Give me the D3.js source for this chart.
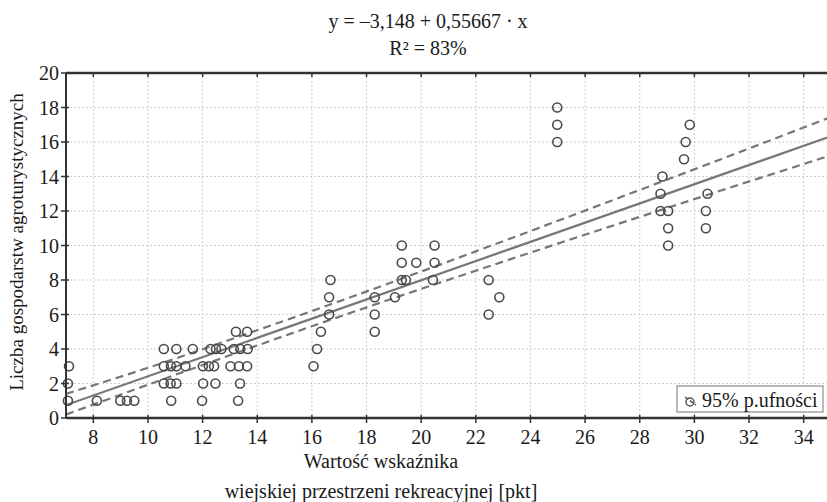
<!DOCTYPE html>
<html><head><meta charset="utf-8">
<script src="https://cdn.jsdelivr.net/npm/d3@7/dist/d3.min.js"></script>
<style>body{margin:0;background:#fff}svg{display:block}text{font-family:"Liberation Serif","Times New Roman",serif;fill:#1a1a1a}</style>
</head><body><svg id="c" width="827" height="502"></svg>
<script>
// ---- data ----
const pointX = [7.07,7.07,7.11, 8.13,8.99,9.23,9.5, 10.85,11.98,13.3,
  10.58,10.83,11.04,12.02,12.47,13.37,
  10.58,10.84,11.04,11.37,12.01,12.23,12.42,13.02,13.33,13.63,
  10.58,11.04,11.64,12.29,12.49,12.69,13.14,13.38,13.65,
  13.22,13.63,
  16.06,16.19,16.33,16.63,16.63,16.68,
  18.3,18.3,18.3,
  19.04,19.29,19.44,19.29,19.29,19.82,20.43,20.49,20.49,
  22.47,22.47,22.86,
  24.98,24.98,24.98,
  28.83,28.76,28.76,29.04,29.04,29.04,
  29.62,29.68,29.83,
  30.48,30.42,30.42];
const pointY = [1,2,3, 1,1,1,1, 1,1,1,
  2,2,2,2,2,2,
  3,3,3,3,3,3,3,3,3,3,
  4,4,4,4,4,4,4,4,4,
  5,5,
  3,4,5,6,7,8,
  5,6,7,
  7,8,8,9,10,9,8,9,10,
  6,8,7,
  16,17,18,
  14,13,12,12,11,10,
  15,16,17,
  13,12,11];
const intercept = -3.148, slope = 0.55667;
const bandX     = [7, 10, 13, 16, 19, 22, 25, 28, 31, 35];
const bandUpper = [1.40, 2.91, 4.54, 6.20, 7.91, 9.66, 11.43, 13.22, 15.02, 17.45];
const bandLower = [0.20, 1.93, 3.64, 5.32, 6.95, 8.54, 10.11, 11.66, 13.20, 15.23];
const xTicks = [8,10,12,14,16,18,20,22,24,26,28,30,32,34];
const yTicks = [0,2,4,6,8,10,12,14,16,18,20];
const titleLines = ["y = \u20133,148 + 0,55667 \u00b7 x", "R\u00b2 = 83%"];
const xLabelLines = ["Warto\u015b\u0107 wska\u017anika", "wiejskiej przestrzeni rekreacyjnej [pkt]"];
const yLabel = "Liczba gospodarstw agroturystycznych";
const legendLabel = "95% p.ufno\u015bci";

// ---- layout ----
const svg = d3.select("#c");
const L = 66, T = 73, R = 831, B = 418;
const x = d3.scaleLinear().domain([7, 35]).range([L, R]);
const y = d3.scaleLinear().domain([0, 20]).range([B, T]);

// grid
const g = svg.append("g");
g.selectAll(".gx").data(xTicks).join("line")
  .attr("x1", d => x(d)).attr("x2", d => x(d)).attr("y1", T).attr("y2", B)
  .attr("stroke", "#cfcfcf").attr("stroke-width", 1).attr("stroke-dasharray", "2,2");
g.selectAll(".gy").data(yTicks.filter(d => d > 0 && d < 20)).join("line")
  .attr("x1", L).attr("x2", R).attr("y1", d => y(d)).attr("y2", d => y(d))
  .attr("stroke", "#cfcfcf").attr("stroke-width", 1).attr("stroke-dasharray", "2,2");

// regression line and bands
svg.append("clipPath").attr("id", "pc").append("rect")
  .attr("x", L).attr("y", T).attr("width", R - L).attr("height", B - T);
const lineG = svg.append("g").attr("clip-path", "url(#pc)");
const regX = [7, 35];
lineG.append("line")
  .attr("x1", x(regX[0])).attr("y1", y(intercept + slope * regX[0]))
  .attr("x2", x(regX[1])).attr("y2", y(intercept + slope * regX[1]))
  .attr("stroke", "#777").attr("stroke-width", 2.2);
const bandLine = d3.line().x(d => x(d[0])).y(d => y(d[1])).curve(d3.curveMonotoneX);
[bandUpper, bandLower].forEach(arr => {
  lineG.append("path").datum(bandX.map((bx, i) => [bx, arr[i]]))
    .attr("d", bandLine).attr("fill", "none")
    .attr("stroke", "#777").attr("stroke-width", 2.2).attr("stroke-dasharray", "8,5");
});

// points
svg.append("g").selectAll("circle").data(pointX.map((px, i) => [px, pointY[i]])).join("circle")
  .attr("cx", d => x(d[0])).attr("cy", d => y(d[1])).attr("r", 4.5)
  .attr("fill", "none").attr("stroke", "#4a4a4a").attr("stroke-width", 1.6);

// axes / frame
const ax = svg.append("g");
ax.append("line").attr("x1", L).attr("x2", R).attr("y1", B).attr("y2", B).attr("stroke", "#333").attr("stroke-width", 2.5);
ax.append("line").attr("x1", L).attr("x2", R).attr("y1", T).attr("y2", T).attr("stroke", "#333").attr("stroke-width", 2.5);
ax.append("line").attr("x1", L).attr("x2", L).attr("y1", T).attr("y2", B).attr("stroke", "#333").attr("stroke-width", 2);
ax.append("line").attr("x1", R).attr("x2", R).attr("y1", T).attr("y2", B).attr("stroke", "#333").attr("stroke-width", 2);
// ticks
ax.selectAll(".tb").data(xTicks).join("line")
  .attr("x1", d => x(d)).attr("x2", d => x(d)).attr("y1", B - 3).attr("y2", B + 5)
  .attr("stroke", "#333").attr("stroke-width", 1.5);
ax.selectAll(".tt").data(xTicks).join("line")
  .attr("x1", d => x(d)).attr("x2", d => x(d)).attr("y1", T).attr("y2", T + 4)
  .attr("stroke", "#333").attr("stroke-width", 1.5);
ax.selectAll(".tl").data(yTicks).join("line")
  .attr("x1", L - 5).attr("x2", L + 3).attr("y1", d => y(d)).attr("y2", d => y(d))
  .attr("stroke", "#333").attr("stroke-width", 1.5);
ax.selectAll(".tr").data(yTicks).join("line")
  .attr("x1", R - 4).attr("x2", R).attr("y1", d => y(d)).attr("y2", d => y(d))
  .attr("stroke", "#333").attr("stroke-width", 1.5);
// tick labels
ax.selectAll(".lx").data(xTicks).join("text")
  .attr("x", d => x(d)).attr("y", B + 26).attr("text-anchor", "middle")
  .attr("font-size", 20).text(d => d);
ax.selectAll(".ly").data(yTicks).join("text")
  .attr("x", L - 7).attr("y", d => y(d) + 7).attr("text-anchor", "end")
  .attr("font-size", 20).text(d => d);

// titles
svg.selectAll(".title").data(titleLines).join("text")
  .attr("x", 428).attr("y", (d, i) => 28 + i * 27).attr("text-anchor", "middle")
  .attr("font-size", 20).text(d => d);
svg.selectAll(".xl").data(xLabelLines).join("text")
  .attr("x", 381).attr("y", (d, i) => 468 + i * 30).attr("text-anchor", "middle")
  .attr("font-size", 20).text(d => d);
svg.append("text").attr("transform", "translate(23,242) rotate(-90)")
  .attr("text-anchor", "middle").attr("font-size", 19).text(yLabel);

// legend
const lg = svg.append("g");
lg.append("rect").attr("x", 677).attr("y", 386).attr("width", 146).attr("height", 26)
  .attr("fill", "#fff").attr("stroke", "#777").attr("stroke-width", 1);
lg.append("circle").attr("cx", 690).attr("cy", 402).attr("r", 4).attr("fill", "none")
  .attr("stroke", "#555").attr("stroke-width", 1.5);
lg.append("line").attr("x1", 685).attr("y1", 397).attr("x2", 696).attr("y2", 405)
  .attr("stroke", "#555").attr("stroke-width", 1.5).attr("stroke-dasharray", "4,2");
lg.append("text").attr("x", 702).attr("y", 407).attr("font-size", 20).text(legendLabel);
</script></body></html>
